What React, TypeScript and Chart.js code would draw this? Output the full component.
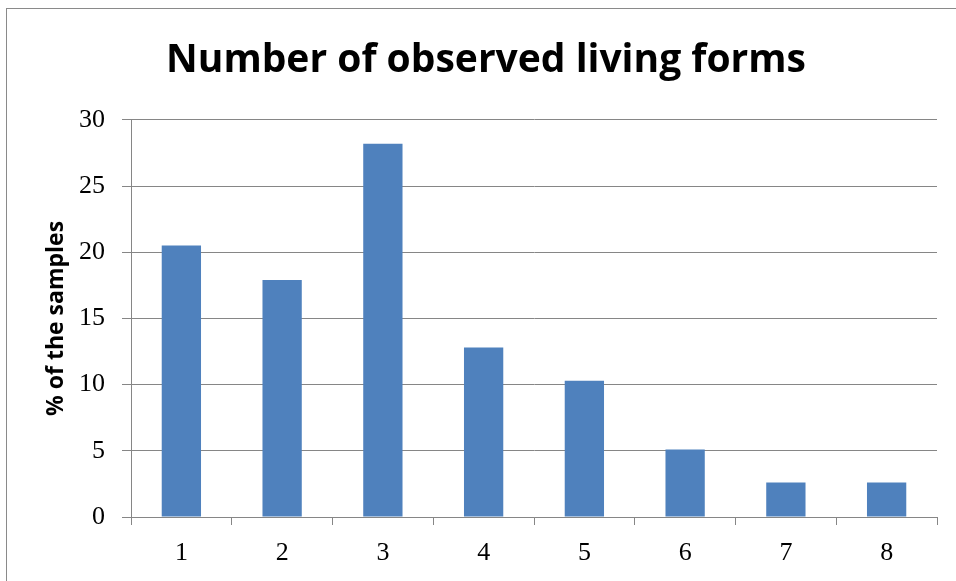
import React, { useEffect, useRef } from "react";
import { Chart, registerables } from "chart.js";

Chart.register(...registerables);

const categories = ["1", "2", "3", "4", "5", "6", "7", "8"];
const percentValues = [20.5, 17.9, 28.2, 12.8, 10.3, 5.1, 2.6, 2.6];
const chartTitle = "Number of observed living forms";
const yAxisTitle = "% of the samples";

const framePlugin = {
  id: "frame",
  beforeDraw(chart: any) {
    const ctx = chart.ctx;
    ctx.save();
    ctx.fillStyle = "#ffffff";
    ctx.fillRect(0, 0, chart.width, chart.height);
    ctx.strokeStyle = "#8a8a8a";
    ctx.lineWidth = 1;
    ctx.strokeRect(6.5, 8.5, 2000, 2000);
    ctx.restore();
  },
};

export default function App() {
  const ref = useRef<HTMLCanvasElement>(null);
  useEffect(() => {
    if (!ref.current) return;
    const chart = new Chart(ref.current, {
      type: "bar",
      data: {
        labels: categories,
        datasets: [
          {
            data: percentValues,
            backgroundColor: "#4F81BD",
            borderWidth: 0,
            barPercentage: 0.39,
            categoryPercentage: 1,
          },
        ],
      },
      plugins: [framePlugin],
      options: {
        responsive: false,
        animation: false,
        layout: { padding: { left: 35, right: 19, top: 0, bottom: 0 } },
        plugins: {
          legend: { display: false },
          tooltip: { enabled: false },
          title: {
            display: true,
            text: chartTitle,
            color: "#000000",
            font: { family: "Open Sans", size: 39, weight: "bold" },
            padding: { top: 37, bottom: 36 },
          },
        },
        scales: {
          x: {
            grid: {
              display: true,
              drawOnChartArea: false,
              drawTicks: true,
              tickLength: 8,
              color: "#868686",
              offset: true,
            },
            border: { display: true, color: "#868686" },
            ticks: {
              color: "#000000",
              font: { family: "Liberation Serif", size: 26 },
              padding: 13,
              maxRotation: 0,
            },
            afterFit: (s: any) => {
              s.height = 64;
            },
          },
          y: {
            min: 0,
            max: 30,
            ticks: {
              stepSize: 5,
              color: "#000000",
              font: { family: "Liberation Serif", size: 26 },
              padding: 17,
            },
            grid: {
              color: "#868686",
              tickLength: 9,
              drawTicks: true,
            },
            border: { display: true, color: "#868686" },
            title: {
              display: true,
              text: yAxisTitle,
              color: "#000000",
              font: { family: "Open Sans", size: 23, weight: "bold" },
              padding: { top: 8, bottom: 0 },
            },
            afterFit: (s: any) => {
              s.width = 96;
            },
          },
        },
      },
    });
    return () => chart.destroy();
  }, []);
  return (
    <div style={{ position: "absolute", left: 0, top: 0, width: 956, height: 581 }}>
      <canvas ref={ref} width={956} height={581} />
    </div>
  );
}
